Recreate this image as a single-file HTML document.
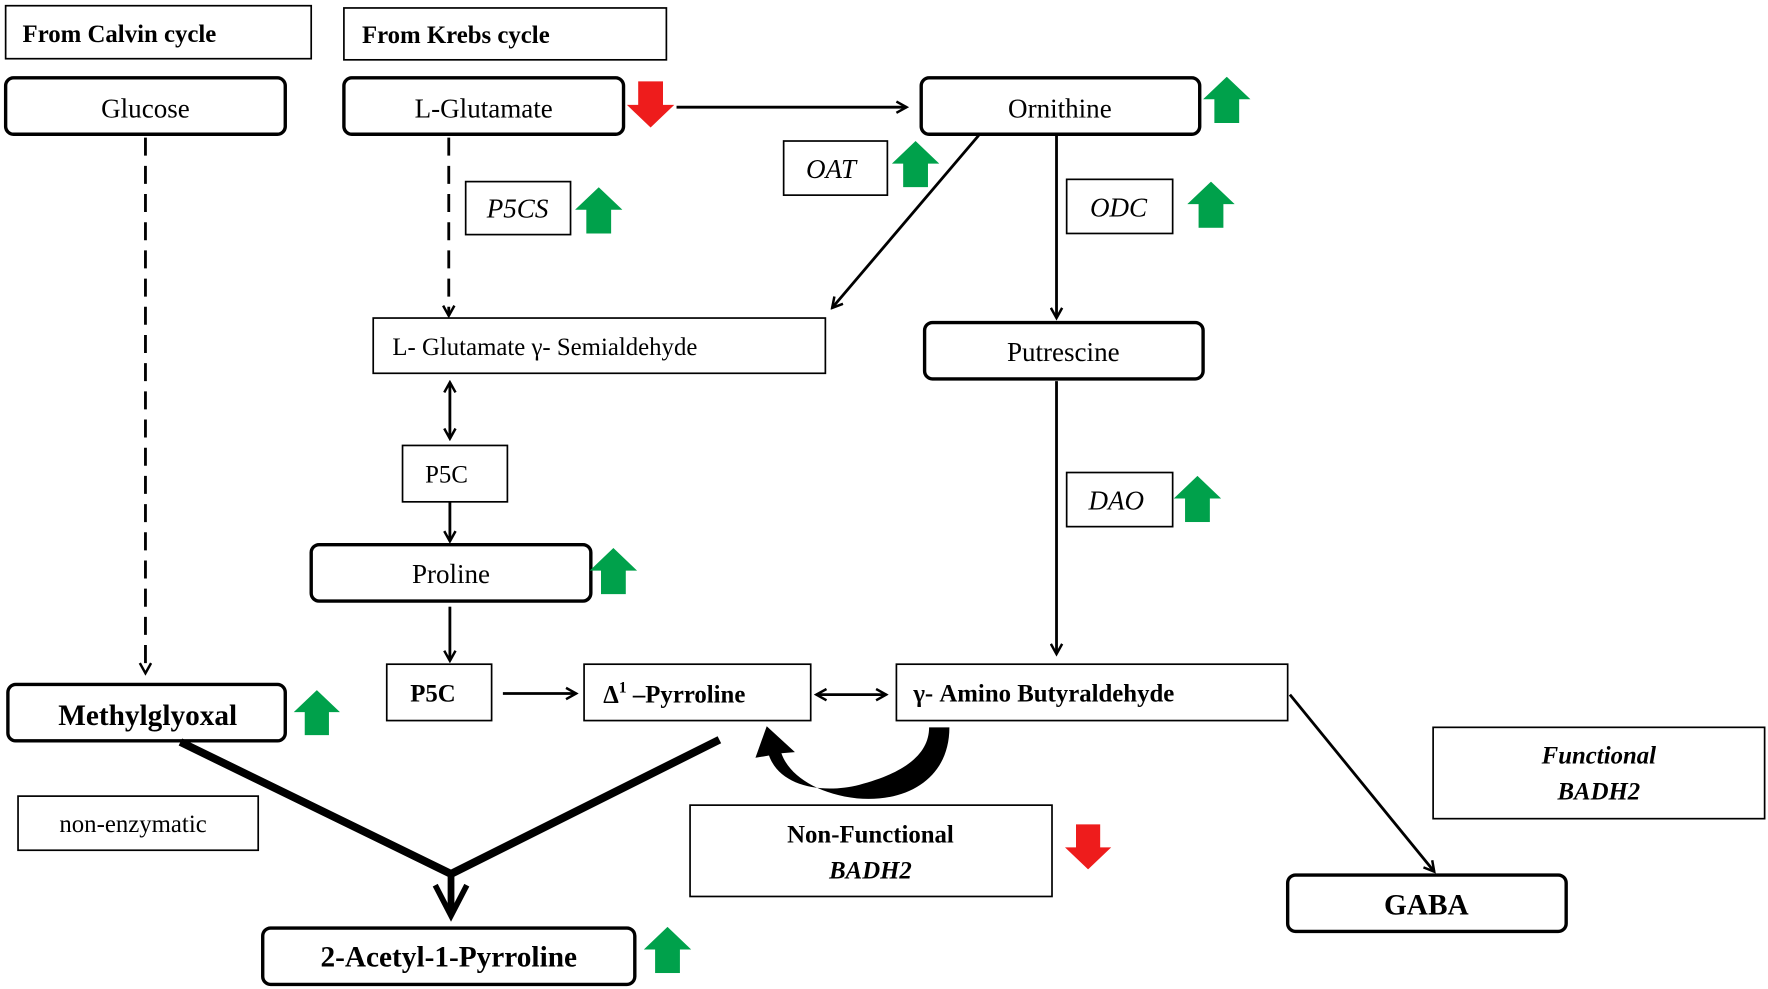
<!DOCTYPE html>
<html><head><meta charset="utf-8"><style>
html,body{margin:0;padding:0;background:#fff;}
svg{display:block;}
text{font-family:"Liberation Serif",serif;fill:#000;}
</style></head><body>
<svg width="1768" height="989" viewBox="0 0 1568 877" xmlns="http://www.w3.org/2000/svg">
<defs>
<marker id="ah" markerWidth="12" markerHeight="12" refX="10" refY="6" orient="auto" markerUnits="userSpaceOnUse" viewBox="0 0 12 12">
<path d="M1,1 L10,6 L1,11" fill="none" stroke="#000" stroke-width="2.2"/>
</marker>
<marker id="ahs" markerWidth="12" markerHeight="12" refX="2" refY="6" orient="auto" markerUnits="userSpaceOnUse" viewBox="0 0 12 12">
<path d="M11,1 L2,6 L11,11" fill="none" stroke="#000" stroke-width="2.2"/>
</marker>
<symbol id="up" viewBox="0 0 42 41"><path d="M21,0 L42,20 L32,20 L32,41 L10,41 L10,20 L0,20 Z" fill="#00a14b"/></symbol>
<symbol id="dn" viewBox="0 0 42 41"><path d="M10,0 L32,0 L32,21 L42,21 L21,41 L0,21 L10,21 Z" fill="#ee1c1c"/></symbol>
</defs>
<g fill="#fff" stroke="#000">
<rect x="5" y="5" width="271" height="47" stroke-width="1.5"/>
<rect x="305" y="7" width="286" height="46" stroke-width="1.5"/>
<rect x="5" y="69" width="248" height="50" rx="7" stroke-width="3"/>
<rect x="305" y="69" width="248" height="50" rx="7" stroke-width="3"/>
<rect x="817" y="69" width="247" height="50" rx="7" stroke-width="3"/>
<rect x="695" y="125" width="92" height="48" stroke-width="1.5"/>
<rect x="413" y="161" width="93" height="47" stroke-width="1.5"/>
<rect x="946" y="159" width="94" height="48" stroke-width="1.5"/>
<rect x="331" y="282" width="401" height="49" stroke-width="1.5"/>
<rect x="820" y="286" width="247" height="50" rx="7" stroke-width="3"/>
<rect x="357" y="395" width="93" height="50" stroke-width="1.5"/>
<rect x="276" y="483" width="248" height="50" rx="7" stroke-width="3"/>
<rect x="946" y="419" width="94" height="48" stroke-width="1.5"/>
<rect x="343" y="589" width="93" height="50" stroke-width="1.5"/>
<rect x="518" y="589" width="201" height="50" stroke-width="1.5"/>
<rect x="795" y="589" width="347" height="50" stroke-width="1.5"/>
<rect x="7" y="607" width="246" height="50" rx="7" stroke-width="3"/>
<rect x="16" y="706" width="213" height="48" stroke-width="1.5"/>
<rect x="612" y="714" width="321" height="81" stroke-width="1.5"/>
<rect x="1271" y="645" width="294" height="81" stroke-width="1.5"/>
<rect x="1142" y="776" width="247" height="50" rx="7" stroke-width="3"/>
<rect x="233" y="823" width="330" height="50" rx="7" stroke-width="3"/>
</g>
<g stroke="#000" stroke-width="2.5" fill="none">
<line x1="600" y1="95" x2="804" y2="95" marker-end="url(#ah)"/>
<line x1="129" y1="122" x2="129" y2="597" stroke-dasharray="16,9" marker-end="url(#ah)"/>
<line x1="398" y1="122" x2="398" y2="280" stroke-dasharray="16,9" marker-end="url(#ah)"/>
<line x1="868" y1="120" x2="738" y2="273" marker-end="url(#ah)"/>
<line x1="937" y1="120" x2="937" y2="282" marker-end="url(#ah)"/>
<line x1="399" y1="339" x2="399" y2="389" marker-start="url(#ahs)" marker-end="url(#ah)"/>
<line x1="399" y1="445" x2="399" y2="480" marker-end="url(#ah)"/>
<line x1="399" y1="538" x2="399" y2="586" marker-end="url(#ah)"/>
<line x1="937" y1="338" x2="937" y2="580" marker-end="url(#ah)"/>
<line x1="446" y1="615" x2="511" y2="615" marker-end="url(#ah)"/>
<line x1="724" y1="616" x2="786" y2="616" marker-start="url(#ahs)" marker-end="url(#ah)"/>
<line x1="1144" y1="616" x2="1272" y2="773" marker-end="url(#ah)"/>
<path d="M160,658 L400,775 L638,656" stroke-width="7"/>
<line x1="400" y1="775" x2="400" y2="808" stroke-width="6"/>
<path d="M386,785 L400,812 L414,785" stroke-width="5"/>
</g>
<path d="M824,645 L842,645 C842,690 805,712 760,708 C725,704 700,688 693,668 L705,667 L680,644 L670,672 L682,670 C692,698 730,704 762,696 C800,686 824,670 824,645 Z" fill="#000"/>
<use href="#dn" x="556" y="72" width="42" height="41"/>
<use href="#up" x="1067" y="68" width="42" height="41"/>
<use href="#up" x="791" y="125" width="42" height="41"/>
<use href="#up" x="510" y="166" width="42" height="41"/>
<use href="#up" x="1053" y="161" width="42" height="41"/>
<use href="#up" x="523" y="486" width="42" height="41"/>
<use href="#up" x="1041" y="422" width="42" height="41"/>
<use href="#up" x="259" y="612" width="44" height="40"/>
<use href="#dn" x="944" y="731" width="42" height="40"/>
<use href="#up" x="571" y="822" width="42" height="41"/>
<g font-size="24">
<text x="20" y="37" font-weight="bold" font-size="22">From Calvin cycle</text>
<text x="321" y="38" font-weight="bold" font-size="22">From Krebs cycle</text>
<text x="129" y="104" text-anchor="middle">Glucose</text>
<text x="429" y="104" text-anchor="middle">L-Glutamate</text>
<text x="940" y="104" text-anchor="middle">Ornithine</text>
<text x="737" y="158" text-anchor="middle" font-style="italic">OAT</text>
<text x="459" y="193" text-anchor="middle" font-style="italic">P5CS</text>
<text x="992" y="192" text-anchor="middle" font-style="italic">ODC</text>
<text x="348" y="315" font-size="22">L- Glutamate γ- Semialdehyde</text>
<text x="943" y="320" text-anchor="middle">Putrescine</text>
<text x="396" y="428" text-anchor="middle" font-size="22">P5C</text>
<text x="400" y="517" text-anchor="middle">Proline</text>
<text x="990" y="452" text-anchor="middle" font-style="italic">DAO</text>
<text x="384" y="622" text-anchor="middle" font-weight="bold" font-size="22">P5C</text>
<text x="535" y="623" font-weight="bold" font-size="22">Δ<tspan font-size="14" dy="-9">1</tspan><tspan dy="9"> –Pyrroline</tspan></text>
<text x="810" y="622" font-weight="bold" font-size="22">γ- Amino Butyraldehyde</text>
<text x="131" y="643" text-anchor="middle" font-weight="bold" font-size="26">Methylglyoxal</text>
<text x="118" y="738" text-anchor="middle" font-size="22">non-enzymatic</text>
<text x="772" y="747" text-anchor="middle" font-weight="bold" font-size="22">Non-Functional</text>
<text x="772" y="779" text-anchor="middle" font-weight="bold" font-style="italic" font-size="22">BADH2</text>
<text x="1418" y="677" text-anchor="middle" font-weight="bold" font-style="italic" font-size="22">Functional</text>
<text x="1418" y="709" text-anchor="middle" font-weight="bold" font-style="italic" font-size="22">BADH2</text>
<text x="1265" y="811" text-anchor="middle" font-weight="bold" font-size="26">GABA</text>
<text x="398" y="857" text-anchor="middle" font-weight="bold" font-size="26">2-Acetyl-1-Pyrroline</text>
</g>
</svg>
</body></html>
